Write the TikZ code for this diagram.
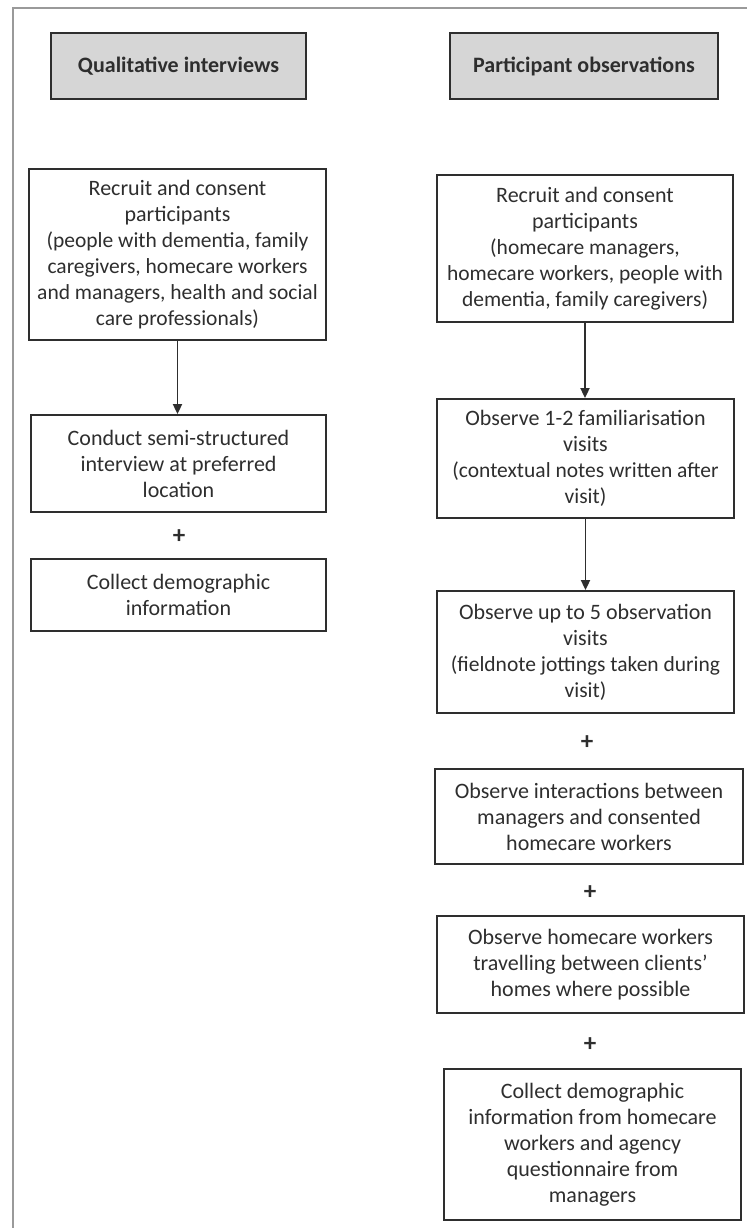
\documentclass[tikz,border=0pt]{standalone}
\usepackage{fontspec}
\setmainfont{Carlito}
\usetikzlibrary{arrows.meta}
\definecolor{boxgray}{HTML}{D6D6D6}
\definecolor{ink}{HTML}{2E2E2E}
\definecolor{framegray}{HTML}{9A9A9A}
\def\note#1{{\fontsize{21.5}{24.5}\selectfont #1}}

\begin{document}
\begin{tikzpicture}[x=1pt,y=-1pt,
  every node/.style={font=\fontsize{22}{26}\selectfont, text=ink, align=center},
  stage/.style={draw=ink, line width=1.8pt, inner sep=0pt},
  head/.style={stage, fill=boxgray, font=\fontsize{22}{26}\selectfont\bfseries},
  flow/.style={-{Triangle[length=10pt,width=9pt]}, draw=ink, line width=1.8pt},
  plus/.style={font=\fontsize{25}{25}\selectfont\bfseries}]

\useasboundingbox (0,0) rectangle (747,1228);
\draw[framegray, line width=2pt] (13,1228) -- (13,8) -- (747,8);

%headers
\node[head, minimum width=255pt, minimum height=66pt] (qi) at (178.5,66) {Qualitative interviews};
\node[head, minimum width=268pt, minimum height=66pt] (po) at (584,66) {Participant observations};

%interviews
\node[stage, minimum width=297pt, minimum height=171pt] (L1) at (177.5,254.5)
  {Recruit and consent\\participants\\\note{(people with dementia, family}\\\note{caregivers, homecare workers}\\\note{and managers, health and social}\\\note{care professionals)}};
\node[stage, minimum width=295pt, minimum height=97pt] (L2) at (178.5,463.5)
  {Conduct semi-structured\\interview at preferred\\location};
\node[plus] (Lp1) at (179,537) {+};
\node[stage, minimum width=295pt, minimum height=72pt] (L3) at (178.5,595)
  {Collect demographic\\information};
\draw[flow] (L1.south) -- (L1.south |- L2.north);

%observations
\node[stage, minimum width=296pt, minimum height=147pt] (R1) at (585,248.5)
  {Recruit and consent\\participants\\\note{(homecare managers,}\\\note{homecare workers, people with}\\\note{dementia, family caregivers)}};
\node[stage, minimum width=297pt, minimum height=119pt] (R2) at (585.5,458.5)
  {Observe 1-2 familiarisation\\visits\\\note{(contextual notes written after}\\\note{visit)}};
\node[stage, minimum width=297pt, minimum height=122pt] (R3) at (585.5,652)
  {Observe up to 5 observation\\visits\\\note{(fieldnote jottings taken during}\\\note{visit)}};
\node[plus] (Rp1) at (587,743) {+};
\node[stage, minimum width=308pt, minimum height=95pt] (R4) at (589,816.5)
  {Observe interactions between\\managers and consented\\homecare workers};
\node[plus] (Rp2) at (590,893) {+};
\node[stage, minimum width=307pt, minimum height=97pt] (R5) at (590.5,964.5)
  {Observe homecare workers\\travelling between clients’\\homes where possible};
\node[plus] (Rp3) at (590,1045) {+};
\node[stage, minimum width=297pt, minimum height=151pt] (R6) at (592.5,1144.5)
  {Collect demographic\\information from homecare\\workers and agency\\questionnaire from\\managers};
\draw[flow] (R1.south) -- (R1.south |- R2.north);
\draw[flow] (R2.south) -- (R2.south |- R3.north);

\end{tikzpicture}
\end{document}
